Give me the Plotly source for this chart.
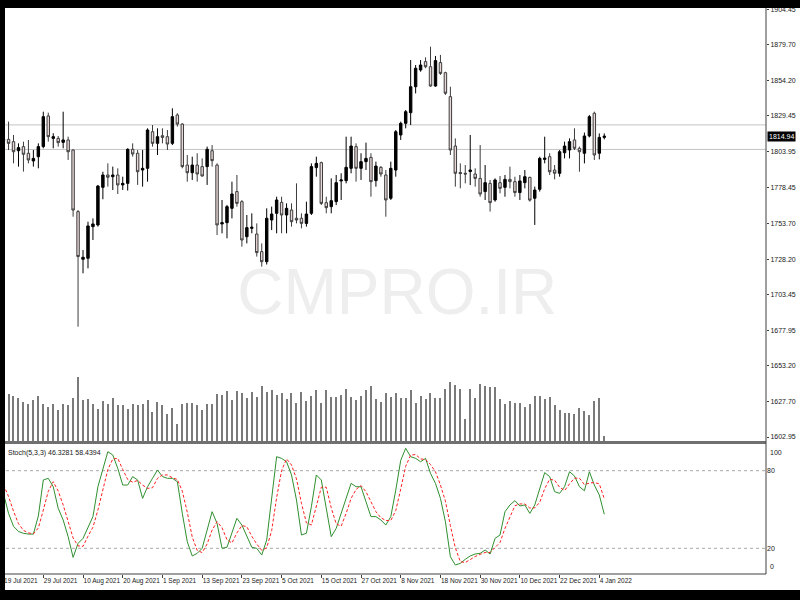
import plotly.graph_objects as go

# ---------------- data ----------------
opens = [1812.0, 1812.7, 1811.1, 1804.7, 1807.6, 1802.9, 1797.5, 1800.5, 1807.6, 1829.2,
         1813.4, 1813.4, 1810.6, 1812.3, 1805.2, 1761.8, 1728.2, 1728.9, 1751.2, 1752.4,
         1778.9, 1787.6, 1786.4, 1787.6, 1780.6, 1781.7, 1805.7, 1802.9, 1791.1, 1792.3,
         1818.1, 1809.9, 1815.3, 1814.6, 1809.9, 1829.9, 1823.5, 1794.6, 1789.2, 1794.6,
         1793.5, 1793.5, 1804.7, 1794.6, 1753.1, 1754.0, 1764.1, 1775.9, 1768.8, 1744.1,
         1750.0, 1746.0, 1733.6, 1726.5, 1755.9, 1760.6, 1768.3, 1759.4, 1762.9, 1757.1,
         1757.1, 1753.5, 1760.6, 1792.8, 1796.3, 1768.1, 1765.3, 1768.8, 1783.4, 1783.6,
         1792.3, 1807.6, 1792.3, 1797.0, 1800.0, 1783.6, 1793.0, 1787.6, 1771.2, 1791.1,
         1815.8, 1824.0, 1831.5, 1849.8, 1861.6, 1867.5, 1863.9, 1850.3, 1866.8, 1859.7,
         1842.8, 1808.0, 1789.4, 1788.8, 1790.0, 1788.3, 1785.2, 1775.9, 1781.7, 1770.0,
         1782.2, 1778.9, 1784.5, 1782.9, 1775.2, 1782.2, 1785.9, 1771.2, 1777.5, 1798.6,
         1800.5, 1791.1, 1788.8, 1803.3, 1805.2, 1812.3, 1806.4, 1802.9, 1815.1, 1831.1,
         1802.9, 1814.1]
highs = [1825.0, 1825.2, 1815.8, 1809.9, 1811.1, 1812.3, 1805.2, 1809.9, 1832.2, 1831.5,
         1817.0, 1815.1, 1832.2, 1814.6, 1805.7, 1762.9, 1734.7, 1754.7, 1757.0, 1780.6,
         1789.9, 1795.8, 1793.5, 1792.3, 1786.4, 1806.4, 1809.9, 1805.2, 1805.2, 1820.5,
         1822.8, 1820.5, 1820.5, 1819.3, 1834.6, 1831.1, 1824.0, 1801.7, 1800.5, 1802.9,
         1799.3, 1807.6, 1808.7, 1795.8, 1770.0, 1766.5, 1782.9, 1787.6, 1769.9, 1759.4,
         1760.6, 1753.5, 1739.4, 1764.1, 1765.3, 1772.3, 1772.3, 1767.6, 1767.6, 1781.7,
         1760.6, 1768.8, 1795.8, 1800.5, 1797.0, 1772.3, 1785.2, 1787.6, 1788.8, 1814.6,
         1814.6, 1809.9, 1802.9, 1810.4, 1802.9, 1797.0, 1793.9, 1791.1, 1797.0, 1819.3,
         1825.2, 1833.4, 1868.6, 1865.1, 1868.6, 1870.5, 1878.0, 1871.5, 1872.2, 1860.4,
         1849.8, 1813.4, 1795.8, 1794.6, 1815.8, 1792.3, 1808.7, 1794.6, 1784.1, 1785.2,
         1786.9, 1787.6, 1793.5, 1786.4, 1787.6, 1791.1, 1786.4, 1779.4, 1800.5, 1814.6,
         1802.9, 1794.6, 1805.2, 1811.1, 1813.4, 1820.5, 1807.6, 1817.5, 1829.9, 1832.2,
         1816.9, 1816.9]
lows = [1794.0, 1805.2, 1795.8, 1793.5, 1790.0, 1795.8, 1793.5, 1792.3, 1806.4, 1811.1,
        1806.4, 1807.6, 1806.4, 1798.2, 1758.2, 1680.7, 1718.3, 1721.8, 1741.8, 1751.2,
        1770.5, 1779.4, 1777.0, 1774.2, 1777.0, 1776.6, 1800.5, 1780.6, 1779.4, 1782.9,
        1807.6, 1801.7, 1809.9, 1805.2, 1808.7, 1821.7, 1792.3, 1782.9, 1784.1, 1782.9,
        1786.4, 1780.6, 1793.5, 1745.3, 1746.5, 1743.0, 1757.0, 1765.3, 1737.1, 1739.4,
        1746.5, 1730.1, 1723.0, 1724.5, 1748.8, 1746.5, 1746.5, 1746.5, 1751.2, 1753.5,
        1750.0, 1751.2, 1759.4, 1786.4, 1766.4, 1760.6, 1760.6, 1766.4, 1770.0, 1781.7,
        1788.8, 1782.9, 1784.1, 1791.1, 1772.3, 1779.4, 1786.4, 1758.2, 1770.0, 1786.4,
        1812.3, 1820.5, 1822.8, 1845.1, 1860.4, 1862.8, 1849.8, 1849.8, 1858.1, 1844.0,
        1801.7, 1779.4, 1778.2, 1781.7, 1780.5, 1779.4, 1772.3, 1770.0, 1761.8, 1768.8,
        1774.7, 1772.3, 1778.2, 1772.3, 1770.0, 1778.2, 1768.8, 1752.4, 1775.9, 1795.8,
        1787.6, 1784.5, 1786.4, 1799.3, 1799.3, 1805.2, 1789.9, 1795.8, 1814.1, 1798.2,
        1798.6, 1812.7]
closes = [1812.7, 1809.9, 1804.0, 1806.9, 1802.2, 1798.2, 1799.3, 1807.6, 1828.7, 1814.6,
          1814.6, 1810.4, 1812.3, 1804.0, 1762.9, 1730.1, 1729.6, 1751.7, 1753.1, 1779.8,
          1787.6, 1786.0, 1787.6, 1780.6, 1781.7, 1805.7, 1802.4, 1789.9, 1792.3, 1819.3,
          1809.9, 1814.6, 1814.1, 1809.4, 1828.7, 1823.5, 1793.5, 1789.2, 1794.6, 1788.3,
          1786.9, 1805.7, 1797.7, 1752.4, 1754.0, 1765.3, 1774.2, 1767.6, 1741.8, 1750.5,
          1750.8, 1732.9, 1726.5, 1757.1, 1760.1, 1770.0, 1759.4, 1764.1, 1754.7, 1755.9,
          1753.5, 1760.1, 1793.5, 1795.8, 1767.6, 1764.6, 1769.5, 1782.2, 1784.1, 1793.0,
          1808.0, 1792.3, 1797.0, 1799.3, 1782.9, 1793.9, 1788.3, 1770.0, 1792.3, 1818.1,
          1824.0, 1832.2, 1849.8, 1862.8, 1865.1, 1863.9, 1850.3, 1868.2, 1859.2, 1845.2,
          1805.2, 1788.8, 1788.6, 1788.3, 1791.1, 1785.2, 1774.2, 1782.2, 1768.1, 1784.1,
          1778.2, 1784.5, 1782.9, 1775.2, 1783.4, 1786.4, 1769.9, 1777.0, 1799.3, 1799.5,
          1789.9, 1788.8, 1804.0, 1808.0, 1811.1, 1806.4, 1804.0, 1815.1, 1828.7, 1801.7,
          1814.1, 1814.94]
volumes = [130, 140, 136, 129, 116, 112, 122, 134, 112, 102, 110,
           94, 110, 107, 129, 192, 122, 125, 112, 97, 119,
           112, 130, 107, 107, 95, 110, 107, 112, 122, 87,
           116, 107, 82, 100, 50, 112, 115, 115, 109, 94,
           112, 112, 142, 139, 149, 122, 149, 144, 130, 147,
           132, 165, 147, 154, 139, 145, 125, 145, 115, 146,
           119, 135, 152, 115, 152, 132, 132, 139, 155, 132,
           124, 134, 154, 165, 127, 117, 145, 132, 145, 130,
           130, 154, 115, 135, 125, 145, 129, 129, 155, 177,
           167, 155, 67, 157, 129, 170, 164, 162, 162, 127,
           112, 119, 115, 115, 102, 112, 135, 134, 125, 132,
           109, 94, 85, 85, 82, 99, 90, 77, 119, 129,
           14]
stoch_k = [62, 47, 37, 33, 31.6, 31, 31, 45, 72.8, 74.1,
           67.6, 50.9, 41.9, 29, 13, 23.8, 27.7, 36.7, 44.5, 67.6,
           80.5, 94.7, 92.1, 81.8, 68.9, 68.9, 75.4, 72.8, 58.6, 67.6,
           74.1, 80.5, 75.4, 74.1, 74.1, 71.5, 47, 25.1, 14.1, 16.1,
           20, 34.1, 48.3, 39.3, 20, 20.8, 31.6, 43.2, 38, 29,
           20.8, 20, 14.8, 26.4, 60, 90.8, 89.5, 86.9, 76.7, 57.3,
           30.3, 31.6, 52.2, 76.7, 72.8, 52.2, 29, 35.4, 47, 58.6,
           70.2, 67.6, 67.6, 56, 44.5, 44.5, 41.9, 38, 44.5, 65,
           88, 97.3, 90.8, 89.5, 86.9, 89.5, 77.9, 70.2, 58.6, 40.6,
           13.5, 7.1, 8.4, 11.5, 14.1, 15.6, 16.1, 18.7, 15.6, 27.7,
           30.3, 48.3, 53.5, 56.8, 52.7, 53.5, 47, 53.5, 66.3, 78.5,
           75.4, 63.8, 62.5, 67.6, 79.2, 75.9, 67.6, 64.5, 79.2, 68.9,
           61.2, 46.3281]
stoch_d = [69, 60, 48.7, 39, 33.9, 31.9, 31.2, 35.7, 49.6, 64,
           71.5, 64.2, 53.5, 40.6, 28, 21.9, 21.5, 29.4, 36.3, 49.6,
           64.2, 80.9, 89.1, 89.5, 80.9, 73.2, 71.1, 72.4, 68.9, 66.3,
           66.8, 74.1, 76.7, 76.7, 74.5, 73.2, 64.2, 47.9, 28.7, 18.4,
           16.7, 23.4, 34.1, 40.6, 35.9, 26.7, 24.1, 31.9, 37.6, 36.7,
           29.3, 23.3, 18.5, 20.4, 33.7, 59.1, 80.1, 89.1, 84.4, 73.6,
           54.8, 39.7, 38, 53.5, 67.2, 67.2, 51.3, 38.9, 37.1, 47,
           58.6, 65.5, 68.5, 63.7, 56, 48.3, 43.6, 41.5, 41.5, 49.2,
           65.8, 83.4, 92, 92.5, 89.1, 88.6, 84.8, 79.2, 68.9, 56.5,
           37.6, 20.4, 9.7, 9, 11.3, 13.7, 15.3, 16.8, 16.8, 20.7,
           24.5, 35.4, 44, 52.9, 54.3, 54.3, 51.1, 51.3, 55.6, 66.1,
           73.4, 72.6, 67.2, 64.6, 69.8, 74.2, 74.2, 69.3, 70.4, 70.9,
           69.8, 58.4394]
date_labels = ["19 Jul 2021", "29 Jul 2021", "10 Aug 2021", "20 Aug 2021", "1 Sep 2021",
               "13 Sep 2021", "23 Sep 2021", "5 Oct 2021", "15 Oct 2021", "27 Oct 2021",
               "8 Nov 2021", "18 Nov 2021", "30 Nov 2021", "10 Dec 2021", "22 Dec 2021",
               "4 Jan 2022"]
price_ticks = [1904.45, 1879.70, 1854.20, 1829.45, 1803.95, 1778.45, 1753.70,
               1728.20, 1703.45, 1677.95, 1653.20, 1627.70, 1602.95]
hlines = [1822.9, 1805.6]
last_price = 1814.94
stoch_title = "Stoch(5,3,3) 46.3281 58.4394"
watermark = "CMPRO.IR"

# ---------------- figure ----------------
W, H = 800, 600
FONT = "Liberation Sans Narrow, Arial Narrow, Liberation Sans, Arial, sans-serif"
FS = 7


def px(x):
    return x / W


def py(y):
    return 1 - y / H


idx = list(range(len(closes)))
tick_idx = [i * 8 for i in range(len(date_labels))]

fig = go.Figure()
fig.add_trace(go.Scatter(x=[79.3], y=[1701.0], mode="text", text=[watermark],
                         textfont=dict(size=64, color="#eeeeee", family=FONT),
                         xaxis="x", yaxis="y", hoverinfo="skip", showlegend=False))
fig.add_trace(go.Bar(x=idx, y=volumes, marker=dict(color="#7a7a7a", line=dict(width=0)),
                     width=0.22, xaxis="x", yaxis="y3", hoverinfo="skip", showlegend=False))
fig.add_trace(go.Candlestick(x=idx, open=opens, high=highs, low=lows, close=closes,
                             increasing=dict(line=dict(color="#000000", width=1), fillcolor="#000000"),
                             decreasing=dict(line=dict(color="#3c3c3c", width=1), fillcolor="#ead8d8"),
                             whiskerwidth=0, xaxis="x", yaxis="y", showlegend=False))
fig.add_trace(go.Scatter(x=idx, y=stoch_k, mode="lines", line=dict(color="#2f8f2f", width=1),
                         xaxis="x2", yaxis="y2", showlegend=False))
fig.add_trace(go.Scatter(x=idx, y=stoch_d, mode="lines", line=dict(color="#ff2020", width=1, dash="3px,2px"),
                         xaxis="x2", yaxis="y2", showlegend=False))

x_range = [-0.725, 153.58]
dom_x = [0, px(766)]

shapes = []
for v in hlines:
    shapes.append(dict(type="line", xref="paper", yref="y", x0=0, x1=px(766), y0=v, y1=v,
                       line=dict(color="#c4c4c4", width=1), layer="below"))
for v in (20, 80):
    shapes.append(dict(type="line", xref="paper", yref="y2", x0=0, x1=px(766), y0=v, y1=v,
                       line=dict(color="#a8a8a8", width=1, dash="dot"), layer="below"))
# panel separators and frame
shapes.append(dict(type="rect", xref="paper", yref="paper", x0=0, x1=px(766), y0=py(444), y1=py(441),
                   fillcolor="#707070", line=dict(width=0), layer="above"))
shapes.append(dict(type="line", xref="paper", yref="paper", x0=0, x1=px(766), y0=py(574), y1=py(574),
                   line=dict(color="#404040", width=1), layer="above"))
shapes.append(dict(type="line", xref="paper", yref="paper", x0=px(766), x1=px(766), y0=py(574), y1=1,
                   line=dict(color="#404040", width=1), layer="above"))
# black borders of the screenshot
for (x0, x1, y0, y1) in [(0, 800, 0, 8), (0, 5, 0, 600), (0, 800, 590, 600)]:
    shapes.append(dict(type="rect", xref="paper", yref="paper", x0=px(x0), x1=px(x1), y0=py(y1), y1=py(y0),
                       fillcolor="#000000", line=dict(width=0), layer="above"))

annotations = [
    dict(xref="paper", yref="paper", x=px(6), y=py(453), text=stoch_title, showarrow=False,
         xanchor="left", yanchor="middle", font=dict(size=FS, color="#202020", family=FONT)),
    dict(xref="paper", yref="y2", x=px(768), y=94.4, text="100", showarrow=False,
         xanchor="left", yanchor="middle", font=dict(size=FS, color="#202020", family=FONT)),
    dict(xref="paper", yref="y2", x=px(768), y=5.8, text="0", showarrow=False,
         xanchor="left", yanchor="middle", font=dict(size=FS, color="#202020", family=FONT)),
    dict(xref="paper", yref="y", x=px(767), y=last_price, text=f"{last_price:.2f}", showarrow=False,
         xanchor="left", yanchor="middle", bgcolor="#000000", borderpad=1,
         font=dict(size=FS, color="#ffffff", family=FONT)),
]

fig.update_layout(
    width=W, height=H, margin=dict(l=0, r=0, t=0, b=0, pad=0),
    paper_bgcolor="#ffffff", plot_bgcolor="#ffffff",
    font=dict(family=FONT, size=FS, color="#202020"),
    showlegend=False, bargap=0,
    xaxis=dict(domain=dom_x, range=x_range, anchor="y", showticklabels=False, showgrid=False,
               zeroline=False, ticks="", rangeslider=dict(visible=False), showline=False),
    xaxis2=dict(domain=dom_x, range=x_range, anchor="y2", matches="x", tickmode="array",
                tickvals=tick_idx, ticktext=date_labels, ticks="outside", ticklen=3,
                tickcolor="#404040", ticklabelposition="outside right", tickangle=0,
                showgrid=False, zeroline=False, showline=False,
                tickfont=dict(size=6.5, color="#202020", family=FONT)),
    yaxis=dict(domain=[py(441), 1], range=[1600.14, 1910.92], side="right", anchor="x",
               tickmode="array", tickvals=price_ticks, ticktext=[f"{v:.2f}" for v in price_ticks],
               ticks="outside", ticklen=2, tickcolor="#404040", showgrid=False, zeroline=False,
               showline=False, tickfont=dict(size=FS, color="#202020", family=FONT)),
    yaxis3=dict(overlaying="y", range=[0, 1323], visible=False, anchor="x"),
    yaxis2=dict(domain=[py(574.2), py(444.8)], range=[0, 100], side="right", anchor="x2",
                tickmode="array", tickvals=[20, 80], ticktext=["20", "80"], ticks="",
                showgrid=False, zeroline=False, showline=False,
                tickfont=dict(size=FS, color="#202020", family=FONT)),
    shapes=shapes, annotations=annotations,
)

fig.write_html("out.html", config={"displayModeBar": False},
               post_script="document.body.style.margin='0';document.body.style.overflow='hidden';")
